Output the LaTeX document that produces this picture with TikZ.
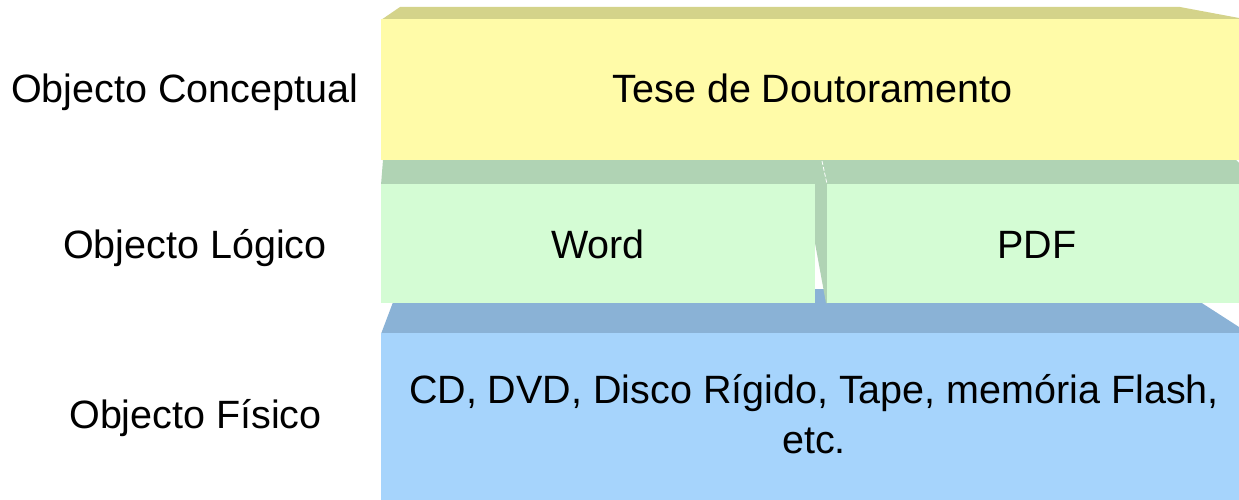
\documentclass[tikz,border=0pt]{standalone}
\usepackage{fontspec}
\setmainfont{Liberation Sans}
\definecolor{yelF}{HTML}{FFFBA8}
\definecolor{yelT}{HTML}{D4D38A}
\definecolor{grnF}{HTML}{D4FCD4}
\definecolor{grnT}{HTML}{B0D3B4}
\definecolor{bluF}{HTML}{A6D4FC}
\definecolor{bluT}{HTML}{8AB2D6}
\begin{document}
\begin{tikzpicture}[x=1pt,y=-1pt,
  face/.style={rectangle,inner sep=0pt,anchor=north west,draw=none},
  lbl/.style={inner sep=0pt,anchor=base,font=\fontsize{39.5}{50}\selectfont}]
\useasboundingbox[fill=white] (0,0) rectangle (1239,500);
% blue top face
\fill[bluT] (398,289) -- (1180,289) -- (1239,327) -- (1239,334) -- (381,334) -- cycle;
% yellow top face
\fill[yelT] (400,7) -- (1180,7) -- (1239,18) -- (1239,20) -- (381,20) -- cycle;
% green top face
\fill[grnT] (383,160) -- (1236,160) -- (1239,163) -- (1239,185) -- (381,185) -- cycle;
% green side face in gap
\fill[grnT] (814,184) -- (828,184) -- (828,303) -- (826,303) -- (815,243) -- (814,243) -- cycle;
\draw[white,line width=0.8pt,dash pattern=on 4pt off 2pt] (822,161) -- (827,184);
% front faces
\node[face,fill=yelF,minimum width=858pt,minimum height=141pt] (yel) at (381,19) {};
\node[face,fill=grnF,minimum width=434pt,minimum height=119pt] (word) at (381,184) {};
\node[face,fill=grnF,minimum width=412pt,minimum height=119pt] (pdf) at (827,184) {};
\node[face,fill=bluF,minimum width=858pt,minimum height=167pt] (blu) at (381,333) {};
% texts
\node[lbl] (t1) at (812.5,103) {Tese de Doutoramento};
\node[lbl] (t2) at (598,258) {Word};
\node[lbl] (t3) at (1037,258) {PDF};
\node[lbl] (t4) at (814,403) {CD, DVD, Disco Rígido, Tape, memória Flash,};
\node[lbl] (t5) at (814,453) {etc.};
\node[lbl] (l1) at (184.5,103) {Objecto Conceptual};
\node[lbl] (l2) at (195,258) {Objecto Lógico};
\node[lbl] (l3) at (195.5,428) {Objecto Físico};
\end{tikzpicture}
\end{document}
